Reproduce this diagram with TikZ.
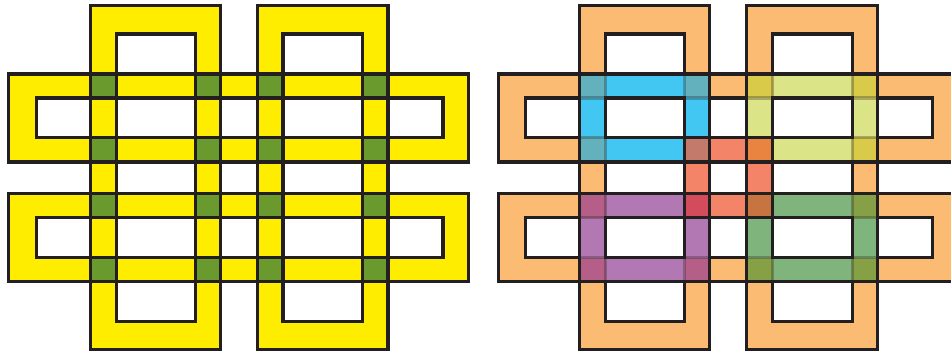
\documentclass[tikz,border=0pt]{standalone}
\definecolor{ln}{HTML}{231F20}
\definecolor{yel}{HTML}{FFED00}
\definecolor{grn}{HTML}{6A9A2E}
\definecolor{org}{HTML}{FBBB73}
\definecolor{blu}{HTML}{41C7F2}
\definecolor{bluc}{HTML}{62B1BD}
\definecolor{ygr}{HTML}{DCE488}
\definecolor{ygrc}{HTML}{DACA4A}
\definecolor{pur}{HTML}{B278B4}
\definecolor{purc}{HTML}{B45E88}
\definecolor{gre}{HTML}{7FB57C}
\definecolor{grec}{HTML}{86A046}
\definecolor{sal}{HTML}{F48468}
\definecolor{salTL}{HTML}{C47A6A}
\definecolor{salTR}{HTML}{E88440}
\definecolor{salBL}{HTML}{D44C5C}
\definecolor{salBR}{HTML}{C87440}
\def\xA{8.7}\def\xB{36.3}\def\xC{90.3}\def\xD{116.3}\def\xE{195.3}\def\xF{220.3}
\def\xG{257.3}\def\xH{283}\def\xI{362.7}\def\xJ{388}\def\xK{443}\def\xL{468.7}
\def\ya{5.7}\def\yb{34}\def\yc{74}\def\yd{98}\def\ye{137.3}\def\yf{162}
\def\yg{193.7}\def\yh{217.5}\def\yi{257.8}\def\yj{281.8}\def\yk{321.3}\def\yl{349.3}
\tikzset{
  outl/.style={draw=ln,line width=2.4pt},
  shade/.style={draw=ln,line width=2.4pt,draw opacity=0.3},
  eo/.style={even odd rule}
}
\begin{document}
\begin{tikzpicture}[x=0.75pt,y=-0.75pt]
\useasboundingbox (0,0) rectangle (951,353);
\clip (0,0) rectangle (951,353);
% ---------------- left figure ----------------
\fill[yel,eo] (\xC,\ya) rectangle (\xF,\yl) (\xD,\yb) rectangle (\xE,\yk);
\fill[yel,eo] (\xG,\ya) rectangle (\xJ,\yl) (\xH,\yb) rectangle (\xI,\yk);
\fill[yel,eo] (\xA,\yc) rectangle (\xL,\yf) (\xB,\yd) rectangle (\xK,\ye);
\fill[yel,eo] (\xA,\yg) rectangle (\xL,\yj) (\xB,\yh) rectangle (\xK,\yi);
\foreach \p/\q in {\xC/\xD,\xE/\xF,\xG/\xH,\xI/\xJ}
  \foreach \r/\s in {\yc/\yd,\ye/\yf,\yg/\yh,\yi/\yj}
    \fill[grn] (\p,\r) rectangle (\q,\s);
\draw[outl] (\xC,\ya) rectangle (\xF,\yl) (\xD,\yb) rectangle (\xE,\yk);
\draw[outl] (\xG,\ya) rectangle (\xJ,\yl) (\xH,\yb) rectangle (\xI,\yk);
\draw[outl] (\xA,\yc) rectangle (\xL,\yf) (\xB,\yd) rectangle (\xK,\ye);
\draw[outl] (\xA,\yg) rectangle (\xL,\yj) (\xB,\yh) rectangle (\xK,\yi);
% ---------------- right figure ----------------
\begin{scope}[shift={(489.5,0)}]
\fill[org,eo] (\xC,\ya) rectangle (\xF,\yl) (\xD,\yb) rectangle (\xE,\yk);
\fill[org,eo] (\xG,\ya) rectangle (\xJ,\yl) (\xH,\yb) rectangle (\xI,\yk);
\fill[org,eo] (\xA,\yc) rectangle (\xL,\yf) (\xB,\yd) rectangle (\xK,\ye);
\fill[org,eo] (\xA,\yg) rectangle (\xL,\yj) (\xB,\yh) rectangle (\xK,\yi);
\draw[outl] (\xC,\ya) rectangle (\xF,\yl) (\xD,\yb) rectangle (\xE,\yk);
\draw[outl] (\xG,\ya) rectangle (\xJ,\yl) (\xH,\yb) rectangle (\xI,\yk);
\draw[outl] (\xA,\yc) rectangle (\xL,\yf) (\xB,\yd) rectangle (\xK,\ye);
\draw[outl] (\xA,\yg) rectangle (\xL,\yj) (\xB,\yh) rectangle (\xK,\yi);
% salmon central ring
\fill[sal,eo] (\xE,\ye) rectangle (\xH,\yh) (\xF,\yf) rectangle (\xG,\yg);
% blue ring
\fill[blu,eo] (\xC,\yc) rectangle (\xF,\yf) (\xD,\yd) rectangle (\xE,\ye);
\fill[bluc] (\xC,\yc) rectangle (\xD,\yd);
\fill[bluc] (\xE,\yc) rectangle (\xF,\yd);
\fill[bluc] (\xC,\ye) rectangle (\xD,\yf);
\fill[salTL] (\xE,\ye) rectangle (\xF,\yf);
% yellow-green ring
\fill[ygr,eo] (\xG,\yc) rectangle (\xJ,\yf) (\xH,\yd) rectangle (\xI,\ye);
\fill[ygrc] (\xG,\yc) rectangle (\xH,\yd);
\fill[ygrc] (\xI,\yc) rectangle (\xJ,\yd);
\fill[ygrc] (\xI,\ye) rectangle (\xJ,\yf);
\fill[salTR] (\xG,\ye) rectangle (\xH,\yf);
% purple ring
\fill[pur,eo] (\xC,\yg) rectangle (\xF,\yj) (\xD,\yh) rectangle (\xE,\yi);
\fill[purc] (\xC,\yg) rectangle (\xD,\yh);
\fill[purc] (\xC,\yi) rectangle (\xD,\yj);
\fill[purc] (\xE,\yi) rectangle (\xF,\yj);
\fill[salBL] (\xE,\yg) rectangle (\xF,\yh);
% green ring
\fill[gre,eo] (\xG,\yg) rectangle (\xJ,\yj) (\xH,\yh) rectangle (\xI,\yi);
\fill[grec] (\xI,\yg) rectangle (\xJ,\yh);
\fill[grec] (\xG,\yi) rectangle (\xH,\yj);
\fill[grec] (\xI,\yi) rectangle (\xJ,\yj);
\fill[salBR] (\xG,\yg) rectangle (\xH,\yh);
% frame lines seen through the coloured rings
\begin{scope}
\clip (\xC,\yc) rectangle (\xF,\yf) (\xG,\yc) rectangle (\xJ,\yf)
      (\xC,\yg) rectangle (\xF,\yj) (\xG,\yg) rectangle (\xJ,\yj);
\draw[shade] (\xC,\ya) rectangle (\xF,\yl) (\xD,\yb) rectangle (\xE,\yk);
\draw[shade] (\xG,\ya) rectangle (\xJ,\yl) (\xH,\yb) rectangle (\xI,\yk);
\draw[shade] (\xA,\yc) rectangle (\xL,\yf) (\xB,\yd) rectangle (\xK,\ye);
\draw[shade] (\xA,\yg) rectangle (\xL,\yj) (\xB,\yh) rectangle (\xK,\yi);
\end{scope}
% ring outlines
\draw[outl] (\xC,\yc) rectangle (\xF,\yf) (\xD,\yd) rectangle (\xE,\ye);
\draw[outl] (\xG,\yc) rectangle (\xJ,\yf) (\xH,\yd) rectangle (\xI,\ye);
\draw[outl] (\xC,\yg) rectangle (\xF,\yj) (\xD,\yh) rectangle (\xE,\yi);
\draw[outl] (\xG,\yg) rectangle (\xJ,\yj) (\xH,\yh) rectangle (\xI,\yi);
\draw[outl] (\xE,\ye) rectangle (\xH,\yh) (\xF,\yf) rectangle (\xG,\yg);
\end{scope}
\end{tikzpicture}
\end{document}
